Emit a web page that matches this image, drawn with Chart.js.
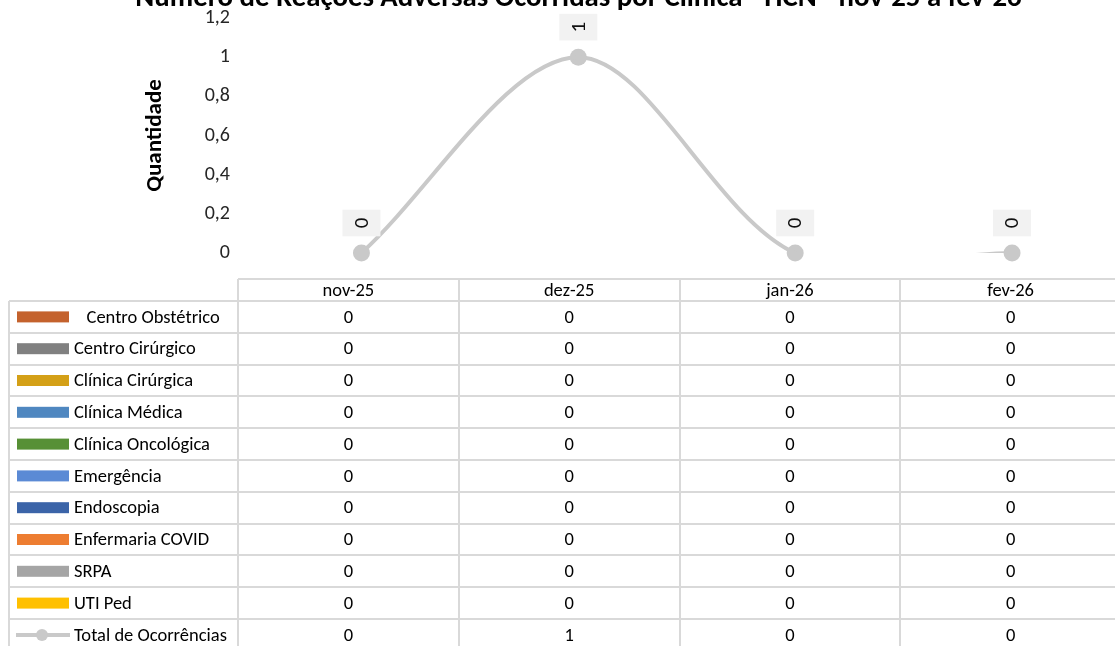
<!DOCTYPE html>
<html lang="pt-BR">
<head>
<meta charset="utf-8">
<title>Reações Adversas por Clínica</title>
<script src="https://cdn.jsdelivr.net/npm/chart.js@4.4.1/dist/chart.umd.min.js"></script>
<style>
	body { margin: 0; background: #fff; }
	#frame { position: relative; width: 1115px; height: 646px; overflow: hidden; }
	#grafico { position: absolute; left: 0; top: 0; }
</style>
</head>
<body>
<div id="frame"><canvas id="grafico" width="1125" height="660"></canvas></div>
<script>
const titulo = 'Número de Reações Adversas Ocorridas por Clínica - HCN - nov-25 a fev-26';
const meses = ['nov-25', 'dez-25', 'jan-26', 'fev-26'];
const clinicas = [
	'   Centro Obstétrico',
	'Centro Cirúrgico',
	'Clínica Cirúrgica',
	'Clínica Médica',
	'Clínica Oncológica',
	'Emergência',
	'Endoscopia',
	'Enfermaria COVID',
	'SRPA',
	'UTI Ped',
];
const ocorrenciasPorClinica = [
	[0, 0, 0, 0],
	[0, 0, 0, 0],
	[0, 0, 0, 0],
	[0, 0, 0, 0],
	[0, 0, 0, 0],
	[0, 0, 0, 0],
	[0, 0, 0, 0],
	[0, 0, 0, 0],
	[0, 0, 0, 0],
	[0, 0, 0, 0],
];
const rotuloTotal = 'Total de Ocorrências';
const totalOcorrencias = [0, 1, 0, 0];
const ticksY = [0, 0.2, 0.4, 0.6, 0.8, 1, 1.2];

// estilos
const coresClinicas = ['#C4622D', '#808080', '#D4A017', '#4F87C0', '#579036', '#5B8AD5', '#3B64A8', '#ED7D31', '#A5A5A5', '#FFC000'];
const corTotal = '#C9C9C9';
const FONTE = 'Carlito, Calibri, Lato, sans-serif';

const virgula = (v) => String(Math.round(v * 10) / 10).replace('.', ',');

const tituloPlugin = {
	id: 'tituloCortado',
	afterDraw: (chart) => {
		const ctx = chart.ctx;
		ctx.save();
		ctx.font = `bold 24px ${FONTE}`;
		let size = 24 * 887 / ctx.measureText(titulo).width;
		ctx.font = `bold ${size}px ${FONTE}`;
		ctx.fillStyle = '#000';
		ctx.textAlign = 'center';
		ctx.textBaseline = 'alphabetic';
		ctx.fillText(titulo, 578.5, 6);
		ctx.restore();
	},
};

// rótulos de dados girados, em caixa cinza clara
const rotulosPlugin = {
	id: 'rotulos',
	afterDatasetsDraw: (chart) => {
		const ctx = chart.ctx;
		chart.data.datasets.forEach((ds, i) => {
			if (!ds.rotulos) return;
			const meta = chart.getDatasetMeta(i);
			meta.data.forEach((pt, j) => {
				const txt = String(ds.data[j]);
				ctx.save();
				ctx.font = `21px ${FONTE}`;
				const w = ctx.measureText(txt).width + 16;
				ctx.translate(pt.x, pt.y - 30);
				ctx.rotate(-Math.PI / 2);
				ctx.fillStyle = '#F2F2F2';
				ctx.fillRect(-w / 2, -19, w, 38);
				ctx.fillStyle = '#111';
				ctx.textAlign = 'center';
				ctx.textBaseline = 'middle';
				ctx.fillText(txt, 0, 1);
				ctx.restore();
			});
		});
	},
};

// tabela de dados abaixo do gráfico
const tabelaPlugin = {
	id: 'tabela',
	afterDraw: (chart) => {
		const ctx = chart.ctx;
		const linhas = chart.data.datasets.filter((ds) => ds.tabela !== false);
		const topo = 279, cabecalho = 301, alturaLinha = 31.8, esquerda = 9, colLegenda = 238, fim = 1121;
		const larguraCol = (fim - colLegenda) / chart.data.labels.length;
		const fundo = cabecalho + alturaLinha * linhas.length;

		ctx.save();
		ctx.strokeStyle = '#D9D9D9';
		ctx.lineWidth = 2;
		ctx.beginPath();
		ctx.moveTo(colLegenda, topo);
		ctx.lineTo(fim, topo);
		for (let r = 0; r <= linhas.length; r++) {
			const y = Math.round(cabecalho + r * alturaLinha);
			ctx.moveTo(esquerda, y);
			ctx.lineTo(fim, y);
		}
		ctx.moveTo(esquerda, cabecalho);
		ctx.lineTo(esquerda, fundo);
		for (let c = 0; c < chart.data.labels.length; c++) {
			const x = Math.round(colLegenda + c * larguraCol);
			ctx.moveTo(x, topo);
			ctx.lineTo(x, fundo);
		}
		ctx.stroke();

		ctx.font = `18.5px ${FONTE}`;
		ctx.fillStyle = '#000';
		ctx.textBaseline = 'middle';
		ctx.textAlign = 'center';
		chart.data.labels.forEach((lab, c) => {
			ctx.fillText(lab, colLegenda + (c + 0.5) * larguraCol, (topo + cabecalho) / 2 + 1);
		});

		linhas.forEach((ds, r) => {
			const yc = cabecalho + (r + 0.5) * alturaLinha;
			if (ds.type === 'bar') {
				ctx.fillStyle = ds.backgroundColor;
				ctx.fillRect(17, yc - 5.5, 52, 11);
			} else {
				ctx.strokeStyle = ds.borderColor;
				ctx.lineWidth = 4;
				ctx.beginPath();
				ctx.moveTo(16, yc);
				ctx.lineTo(70, yc);
				ctx.stroke();
				ctx.fillStyle = ds.borderColor;
				ctx.beginPath();
				ctx.arc(42, yc, 6, 0, Math.PI * 2);
				ctx.fill();
			}
			ctx.fillStyle = '#000';
			ctx.textAlign = 'left';
			ctx.fillText(ds.label, 74, yc + 1);
			ctx.textAlign = 'center';
			ds.data.forEach((v, c) => {
				ctx.fillText(String(v), colLegenda + (c + 0.5) * larguraCol, yc + 1);
			});
		});
		ctx.restore();
	},
};

const datasets = clinicas.map((nome, i) => ({
	type: 'bar',
	label: nome,
	data: ocorrenciasPorClinica[i],
	backgroundColor: coresClinicas[i],
	borderWidth: 0,
}));
datasets.push({
	type: 'line',
	label: rotuloTotal,
	data: totalOcorrencias,
	borderColor: corTotal,
	borderWidth: 4,
	tension: 0.32,
	pointRadius: 0,
	clip: { top: 40, right: 10, bottom: 0, left: 10 },
});
// marcadores do total, desenhados fora do recorte
datasets.push({
	type: 'line',
	label: rotuloTotal,
	data: totalOcorrencias,
	showLine: false,
	pointRadius: 8.5,
	pointBackgroundColor: corTotal,
	pointBorderWidth: 0,
	clip: false,
	tabela: false,
	rotulos: true,
});

new Chart(document.getElementById('grafico'), {
	data: { labels: meses, datasets: datasets },
	options: {
		responsive: false,
		animation: false,
		devicePixelRatio: 1,
		layout: { autoPadding: false, padding: { top: 18, bottom: 407, left: 0, right: 4.5 } },
		elements: { line: { capBezierPoints: false } },
		plugins: { legend: { display: false }, tooltip: { enabled: false } },
		scales: {
			x: { display: false, offset: true },
			y: {
				min: ticksY[0],
				max: ticksY[ticksY.length - 1],
				afterFit: (s) => {
					s.width = 253;
					s.paddingTop = 0;
					s.paddingBottom = 0;
				},
				afterBuildTicks: (s) => { s.ticks = ticksY.map((v) => ({ value: v })); },
				grid: { display: false, drawTicks: false },
				border: { display: false },
				ticks: {
					padding: 23,
					color: '#262626',
					font: { family: FONTE, size: 20 },
					callback: (v) => virgula(v),
				},
				title: {
					display: true,
					text: 'Quantidade',
					color: '#000',
					font: { family: FONTE, size: 23, weight: 'bold' },
					padding: { top: 141, bottom: 0 },
				},
			},
		},
	},
	plugins: [tituloPlugin, rotulosPlugin, tabelaPlugin],
});
</script>
</body>
</html>
